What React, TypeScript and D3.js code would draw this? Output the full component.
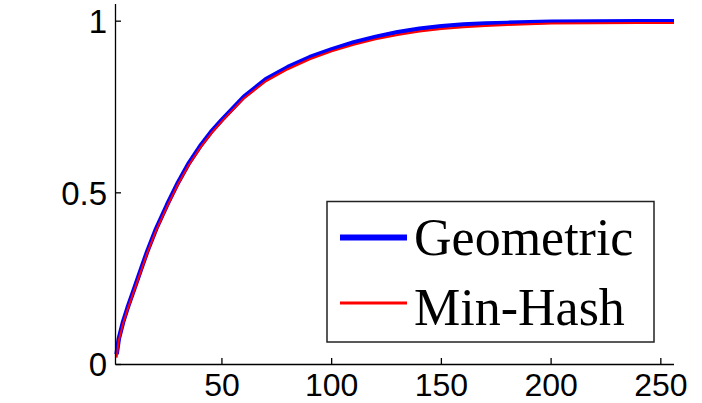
import React from "react";
import * as d3 from "d3";

const xs = [2, 3, 5, 7, 10, 13, 16, 20, 25, 30, 35, 40, 45, 50, 60, 70, 80, 90, 100, 110, 120, 130, 140, 150, 160, 170, 180, 190, 200, 220, 240, 256];
const geometric = [0.03, 0.075, 0.125, 0.165, 0.22, 0.275, 0.33, 0.395, 0.465, 0.53, 0.587, 0.635, 0.677, 0.713, 0.78, 0.831, 0.866, 0.895, 0.918, 0.938, 0.954, 0.968, 0.978, 0.985, 0.99, 0.993, 0.995, 0.997, 0.998, 0.999, 1.0, 1.0];
const minHash = [0.02, 0.07, 0.12, 0.16, 0.215, 0.27, 0.325, 0.39, 0.46, 0.525, 0.582, 0.63, 0.672, 0.708, 0.775, 0.825, 0.86, 0.889, 0.912, 0.931, 0.947, 0.96, 0.97, 0.977, 0.982, 0.986, 0.989, 0.991, 0.993, 0.994, 0.995, 0.995];
const xTicks = [50, 100, 150, 200, 250];
const yTicks = [0, 0.5, 1];
const yTickLabels = ["0", "0.5", "1"];
const seriesNames = ["Geometric", "Min-Hash"];

export default function App() {
  const W = 702, H = 403;
  const x = d3.scaleLinear().domain([1.5, 256]).range([115.5, 674]);
  const y = d3.scaleLinear().domain([0, 1.05]).range([364.5, 4]);
  const line = d3
    .line<number>()
    .x((_, i) => x(xs[i]))
    .y((d) => y(d))
    .curve(d3.curveLinear);

  return (
    <svg
      width={W}
      height={H}
      style={{ position: "absolute", left: 0, top: 0, background: "#fff" }}
    >
      <rect x={0} y={0} width={W} height={H} fill="#fff" />
      <path d={line(geometric) || ""} fill="none" stroke="#0000ff" strokeWidth={4.5} strokeLinejoin="round" />
      <path d={line(minHash) || ""} fill="none" stroke="#ff0000" strokeWidth={2} strokeLinejoin="round" />
      {/* axes */}
      <line x1={115.5} x2={115.5} y1={4} y2={364.5} stroke="#000" strokeWidth={1.3} />
      <line x1={115.5} x2={674} y1={364.5} y2={364.5} stroke="#000" strokeWidth={1.3} />
      {yTicks.map((t, i) => (
        <g key={"y" + t}>
          <line x1={115.5} x2={121} y1={y(t)} y2={y(t)} stroke="#000" strokeWidth={1.3} />
          <text
            x={107}
            y={y(t) + 11.8}
            textAnchor="end"
            fontFamily="Liberation Sans, Arial, sans-serif"
            fontSize={33}
            fill="#000"
          >
            {yTickLabels[i]}
          </text>
        </g>
      ))}
      {xTicks.map((t) => (
        <g key={"x" + t}>
          <line x1={x(t)} x2={x(t)} y1={364.5} y2={358} stroke="#000" strokeWidth={1.3} />
          <text
            x={x(t)}
            y={396}
            textAnchor="middle"
            fontFamily="Liberation Sans, Arial, sans-serif"
            fontSize={32}
            fill="#000"
          >
            {t}
          </text>
        </g>
      ))}
      {/* legend */}
      <rect x={327} y={201.5} width={327} height={140.5} fill="#fff" stroke="#222" strokeWidth={1.5} />
      <line x1={340} x2={407} y1={237.5} y2={237.5} stroke="#0000ff" strokeWidth={6} />
      <line x1={340} x2={407} y1={303} y2={303} stroke="#ff0000" strokeWidth={3} />
      <text x={414} y={255} fontFamily="Liberation Serif, Times New Roman, serif" fontSize={52} fill="#000">
        {seriesNames[0]}
      </text>
      <text x={414} y={325} fontFamily="Liberation Serif, Times New Roman, serif" fontSize={52} fill="#000">
        {seriesNames[1]}
      </text>
    </svg>
  );
}
